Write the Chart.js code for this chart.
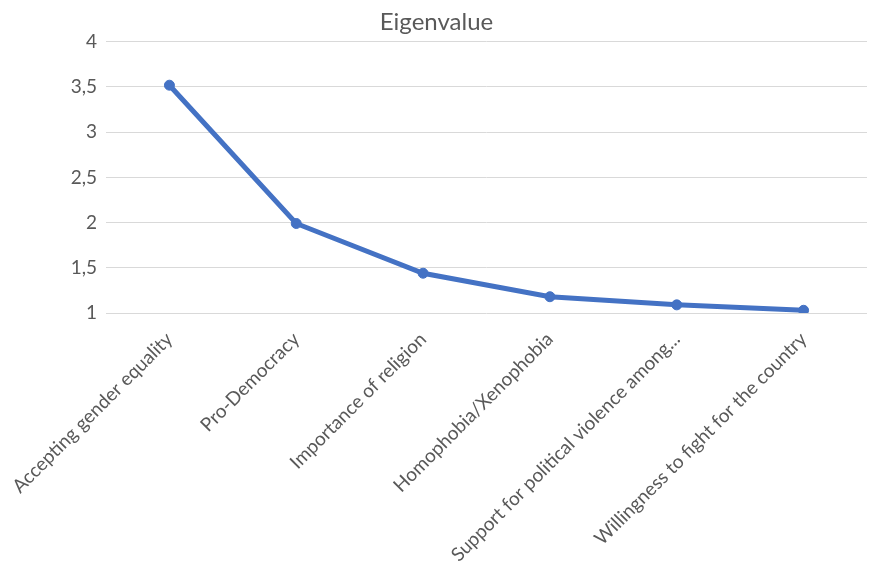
<!DOCTYPE html>
<html>
<head>
<meta charset="utf-8">
<script src="https://cdn.jsdelivr.net/npm/chart.js@4"></script>
<style>
  html, body { margin: 0; padding: 0; background: #fff; }
  #wrap { width: 873px; height: 568px; position: relative; }
</style>
</head>
<body>
<div id="wrap"><canvas id="c"></canvas></div>
<script>
// Scree-plot data: component names and their eigenvalues
const categories = [
  'Accepting gender equality',
  'Pro-Democracy',
  'Importance of religion',
  'Homophobia/Xenophobia',
  'Support for political violence among...',
  'Willingness to fight for the country'
];
const eigenvalues = [3.52, 1.99, 1.44, 1.18, 1.09, 1.03];
const yTicks = [1, 1.5, 2, 2.5, 3, 3.5, 4];

const textColor = '#595959';
const fontFamily = 'Lato, "Noto Sans", sans-serif';

new Chart(document.getElementById('c'), {
  type: 'line',
  data: {
    labels: categories,
    datasets: [{
      label: 'Eigenvalue',
      data: eigenvalues,
      borderColor: '#4472C4',
      backgroundColor: '#4472C4',
      borderWidth: 5,
      pointRadius: 5,
      pointBorderWidth: 1,
      pointHoverRadius: 5,
      tension: 0,
      fill: false
    }]
  },
  options: {
    responsive: true,
    maintainAspectRatio: false,
    animation: false,
    layout: { padding: { top: 8, left: 0, right: 0, bottom: 0 } },
    plugins: {
      legend: { display: false },
      tooltip: { enabled: false },
      title: {
        display: true,
        text: 'Eigenvalue',
        color: textColor,
        font: { family: fontFamily, size: 24, weight: 'normal' },
        padding: { top: 0, bottom: 5 }
      }
    },
    scales: {
      x: {
        offset: true,
        grid: { display: false, offset: true },
        border: { display: false },
        ticks: {
          color: textColor,
          font: { family: fontFamily, size: 19 },
          minRotation: 45,
          maxRotation: 45,
          autoSkip: false,
          padding: 7
        },
        afterFit: (scale) => { scale.height = 255; }
      },
      y: {
        min: 1,
        max: 4,
        afterBuildTicks: (scale) => { scale.ticks = yTicks.map(v => ({ value: v })); },
        grid: { color: '#d9d9d9', lineWidth: 1, drawTicks: false },
        border: { display: false },
        ticks: {
          color: textColor,
          font: { family: fontFamily, size: 19 },
          padding: 9,
          callback: (v) => String(v).replace('.', ',')
        },
        afterFit: (scale) => { scale.width = 106; }
      }
    }
  }
});
</script>
</body>
</html>
